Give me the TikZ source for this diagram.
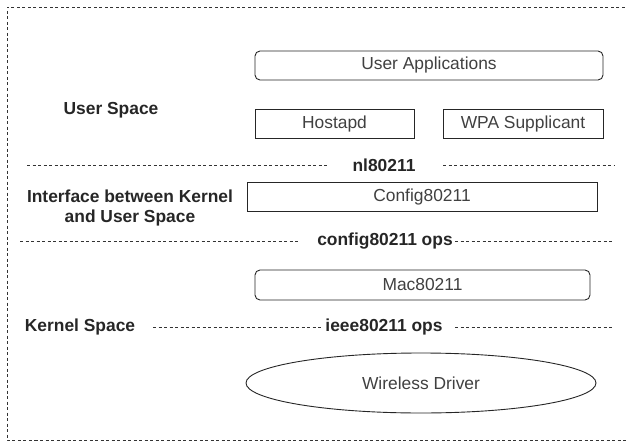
\documentclass[tikz,border=0pt]{standalone}
\usepackage{fontspec}
\setmainfont{Liberation Sans}
\usetikzlibrary{shapes.geometric}
\begin{document}
\begin{tikzpicture}[x=1pt,y=-1pt,
  sep/.style={draw=black!80,line width=0.8pt,dash pattern=on 3pt off 2.5pt},
  txt/.style={font=\fontsize{17.4}{20}\selectfont,text=black!75},
  blk/.style={draw=black!85,line width=0.9pt,minimum height=29pt,inner sep=0pt,txt},
  rblk/.style={blk,rounded corners=5pt},
  lbl/.style={font=\bfseries\fontsize{17.4}{20}\selectfont,text=black!85,inner sep=0pt},
  ]
  \useasboundingbox (0,0) rectangle (626,444);
  % outer frame (open on the right)
  \draw[sep] (630,7) -- (7,7) -- (7,440) -- (630,440);

  % user space
  \node[rblk,minimum width=348pt] (apps) at (429,65.5) {User Applications};
  \node[blk,minimum width=159pt] (hostapd) at (334.5,124) {Hostapd};
  \node[blk,minimum width=160pt] (wpa) at (523,124) {WPA Supplicant};
  \node[lbl] (us) at (111,110) {User Space};

  % nl80211 boundary
  \node[lbl] (nl) at (384,165) {nl80211};
  \coordinate (nlA) at (27,165);
  \coordinate (nlB) at (327,165);
  \coordinate (nlC) at (443,165);
  \coordinate (nlD) at (614,165);
  \draw[sep] (nlA) -- (nlB);
  \draw[sep] (nlC) -- (nlD);

  % interface layer
  \node[lbl,align=center] (iface) at (130,207.5) {Interface between Kernel\\and User Space};
  \node[blk,minimum width=350pt] (cfg) at (422,196.5) {Config80211};

  % config80211 ops boundary
  \node[lbl] (cops) at (385,241) {config80211 ops};
  \coordinate (coA) at (20,241);
  \coordinate (coB) at (300,241);
  \coordinate (coC) at (455,241);
  \coordinate (coD) at (614,241);
  \draw[sep] (coA) -- (coB);
  \draw[sep] (coC) -- (coD);

  % kernel space
  \node[rblk,minimum width=335pt,minimum height=30pt] (mac) at (422.5,285) {Mac80211};
  \node[lbl] (ks) at (80,327) {Kernel Space};
  \node[lbl] (iops) at (384,327) {ieee80211 ops};
  \coordinate (ioA) at (153,327);
  \coordinate (ioB) at (323,327);
  \coordinate (ioC) at (455,327);
  \coordinate (ioD) at (614,327);
  \draw[sep] (ioA) -- (ioB);
  \draw[sep] (ioC) -- (ioD);

  \node[ellipse,draw=black!85,line width=0.9pt,minimum width=350pt,minimum height=60pt,inner sep=0pt,txt] (drv) at (421,383) {Wireless Driver};
\end{tikzpicture}
\end{document}
